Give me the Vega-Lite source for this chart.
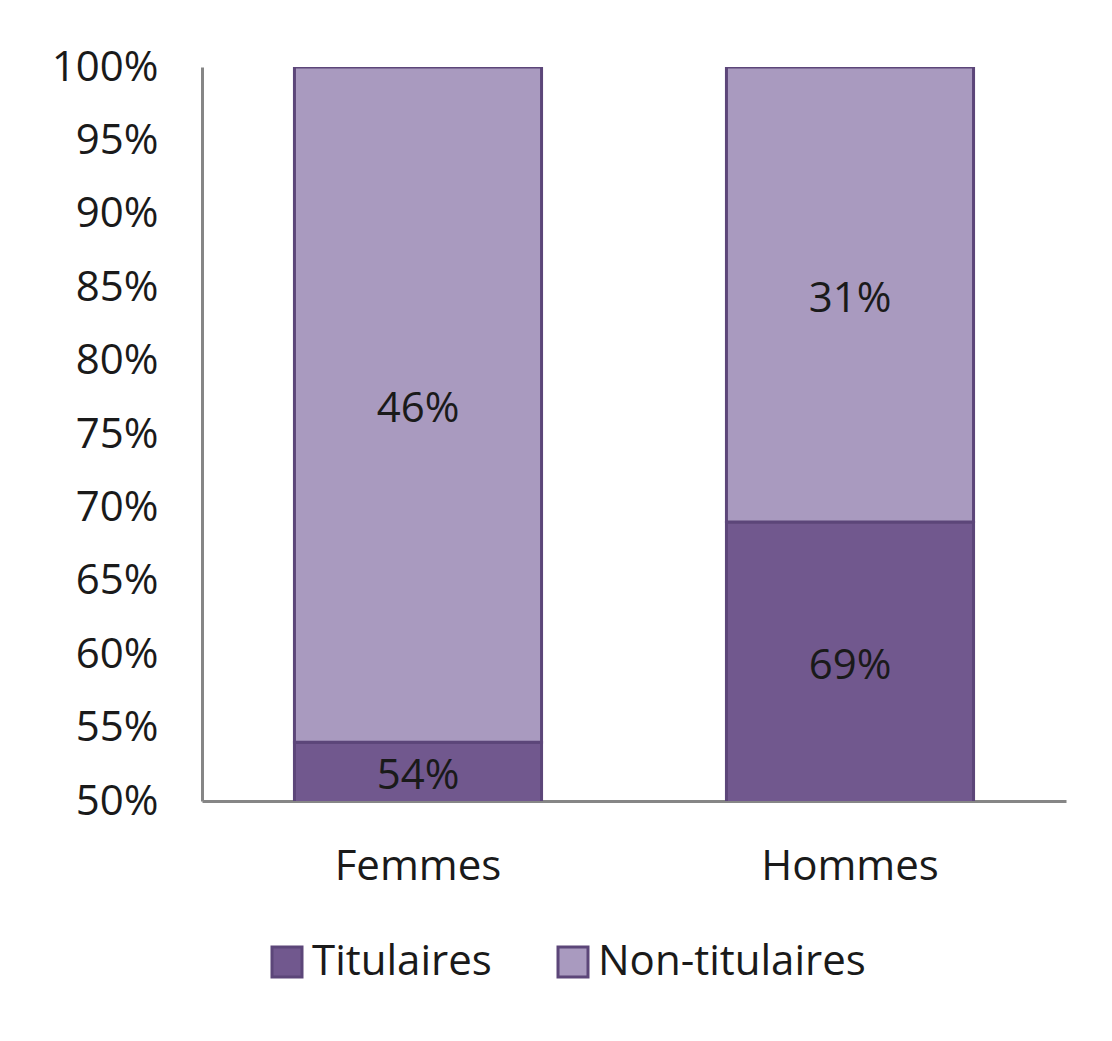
{
  "$schema": "https://vega.github.io/schema/vega-lite/v6.json",
  "autosize": {"type": "none"},
  "width": 864,
  "height": 734,
  "padding": {"left": 202, "top": 67, "right": 46, "bottom": 240},
  "background": "white",
  "config": {
    "view": {"stroke": null},
    "font": "Open Sans"
  },
  "data": {
    "values": [
      {"genre": "Femmes", "statut": "Titulaires", "ord": 1, "value": 0.54},
      {"genre": "Femmes", "statut": "Non-titulaires", "ord": 2, "value": 0.46},
      {"genre": "Hommes", "statut": "Titulaires", "ord": 1, "value": 0.69},
      {"genre": "Hommes", "statut": "Non-titulaires", "ord": 2, "value": 0.31}
    ]
  },
  "transform": [
    {"stack": "value", "groupby": ["genre"], "sort": [{"field": "ord", "order": "ascending"}], "as": ["y0", "y1"]},
    {"calculate": "(max(datum.y0, 0.5) + datum.y1) / 2", "as": "mid"}
  ],
  "encoding": {
    "x": {
      "field": "genre",
      "type": "nominal",
      "scale": {"paddingInner": 0.428, "paddingOuter": 0.214},
      "axis": {
        "title": null,
        "labelAngle": 0,
        "labelFontSize": 42,
        "labelColor": "#1a1a1a",
        "labelPadding": 45,
        "ticks": false,
        "domainColor": "#868686",
        "domainWidth": 3
      }
    }
  },
  "layer": [
    {
      "mark": {"type": "bar", "clip": true, "stroke": "#5C4679", "strokeWidth": 3},
      "encoding": {
        "y": {
          "field": "y0",
          "type": "quantitative",
          "scale": {"domain": [0.5, 1], "nice": false, "zero": false},
          "axis": {
            "title": null,
            "format": ".0%",
            "values": [0.5, 0.55, 0.6, 0.65, 0.7, 0.75, 0.8, 0.85, 0.9, 0.95, 1.0],
            "grid": false,
            "ticks": false,
            "labelFontSize": 42,
            "labelColor": "#1a1a1a",
            "labelPadding": 44,
            "domainColor": "#868686",
            "domainWidth": 3,
            "labelOverlap": false
          }
        },
        "y2": {"field": "y1"},
        "color": {
          "field": "statut",
          "type": "nominal",
          "sort": ["Titulaires", "Non-titulaires"],
          "scale": {"domain": ["Titulaires", "Non-titulaires"], "range": ["#71588E", "#A99ABF"]},
          "legend": {
            "title": null,
            "orient": "none",
            "direction": "horizontal",
            "legendX": 64,
            "legendY": 874,
            "symbolType": "square",
            "symbolSize": 900,
            "symbolStrokeColor": "#5C4679",
            "symbolStrokeWidth": 3,
            "symbolOpacity": 1,
            "labelFontSize": 42,
            "labelColor": "#1a1a1a",
            "labelOffset": 4,
            "columnPadding": 60,
            "labelLimit": 400
          }
        }
      }
    },
    {
      "mark": {"type": "text", "fontSize": 42, "color": "#1a1a1a", "baseline": "middle", "dy": 4},
      "encoding": {
        "y": {"field": "mid", "type": "quantitative"},
        "text": {"field": "value", "type": "quantitative", "format": ".0%"}
      }
    }
  ]
}
